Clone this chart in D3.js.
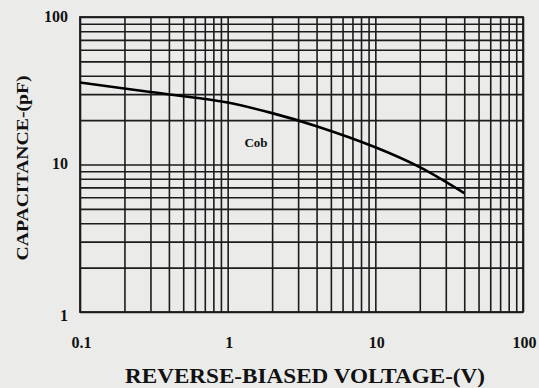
<!DOCTYPE html>
<html>
<head>
<meta charset="utf-8">
<script src="https://cdn.jsdelivr.net/npm/d3@7"></script>
<style>
  html, body { margin: 0; padding: 0; background: #ebebea; }
  svg { display: block; }
  text { font-family: "Liberation Serif", "DejaVu Serif", serif; font-weight: bold; fill: #111; }
</style>
</head>
<body>
<svg id="chart" width="539" height="388"></svg>
<script>
// Reverse-biased voltage (V) and output capacitance Cob (pF)
const voltage = [0.1, 0.3, 0.7, 1, 2, 4, 10, 20, 40];
const cob = [36, 31, 27.8, 26.3, 22.3, 18.2, 13.1, 9.6, 6.4];

// Labelled decades
const xTickValues = [0.1, 1, 10, 100];
const xTickLabels = ["0.1", "1", "10", "100"];
const yTickValues = [1, 10, 100];
const yTickLabels = ["1", "10", "100"];

// Log grid: 1..9 in every decade
const xGrid = [];
for (const d of [0.1, 1, 10]) for (let k = 1; k <= 9; k++) xGrid.push(+(d * k).toPrecision(3));
xGrid.push(100);
const yGrid = [];
for (const d of [1, 10]) for (let k = 1; k <= 9; k++) yGrid.push(+(d * k).toPrecision(3));
yGrid.push(100);

const plotL = 80, plotR = 523, plotT = 17, plotB = 312;
const svg = d3.select("#chart");

const x = d3.scaleLog().domain([0.1, 100]).range([plotL, plotR]);
const y = d3.scaleLog().domain([1, 100]).range([plotB, plotT]);

// Grid lines
const gx = svg.append("g")
  .attr("transform", `translate(0,${plotB})`)
  .call(d3.axisBottom(x).tickValues(xGrid).tickSize(-(plotB - plotT)).tickFormat(""));
const gy = svg.append("g")
  .attr("transform", `translate(${plotL},0)`)
  .call(d3.axisLeft(y).tickValues(yGrid).tickSize(-(plotR - plotL)).tickFormat(""));
[gx, gy].forEach(g => {
  g.select(".domain").remove();
  g.selectAll(".tick line").attr("stroke", "#1c1c1c").attr("stroke-width", 1.6);
});

// Frame
svg.append("rect")
  .attr("x", plotL).attr("y", plotT)
  .attr("width", plotR - plotL).attr("height", plotB - plotT)
  .attr("fill", "none").attr("stroke", "#1c1c1c").attr("stroke-width", 1.8);

// Tick labels
const xl = svg.append("g")
  .attr("transform", `translate(0,${plotB + 22})`)
  .call(d3.axisBottom(x).tickValues(xTickValues).tickSize(0)
    .tickFormat((d, i) => xTickLabels[i]));
xl.select(".domain").remove();
xl.selectAll("text").attr("font-size", 16).attr("dx", 1);

const yl = svg.append("g")
  .attr("transform", `translate(${plotL - 9},0)`)
  .call(d3.axisLeft(y).tickValues(yTickValues).tickSize(0)
    .tickFormat((d, i) => yTickLabels[i]));
yl.select(".domain").remove();
yl.selectAll("text").attr("font-size", 16).attr("dy", d => d === 1 ? "0.5em" : "0.25em");

// Cob curve
const line = d3.line()
  .x((d, i) => x(voltage[i]))
  .y(d => y(d))
  .curve(d3.curveCatmullRom);
svg.append("path")
  .datum(cob)
  .attr("d", line)
  .attr("fill", "none")
  .attr("stroke", "#000")
  .attr("stroke-width", 2.6);

svg.append("text")
  .attr("x", x(1.3)).attr("y", y(13.1))
  .attr("font-size", 13)
  .text("Cob");

// Axis titles
svg.append("text")
  .attr("x", 305).attr("y", 383)
  .attr("text-anchor", "middle")
  .attr("font-size", 20)
  .attr("textLength", 360)
  .attr("lengthAdjust", "spacingAndGlyphs")
  .text("REVERSE-BIASED VOLTAGE-(V)");

svg.append("text")
  .attr("transform", "translate(28,168) rotate(-90)")
  .attr("text-anchor", "middle")
  .attr("font-size", 17)
  .attr("textLength", 185)
  .attr("lengthAdjust", "spacingAndGlyphs")
  .text("CAPACITANCE-(pF)");
</script>
</body>
</html>
